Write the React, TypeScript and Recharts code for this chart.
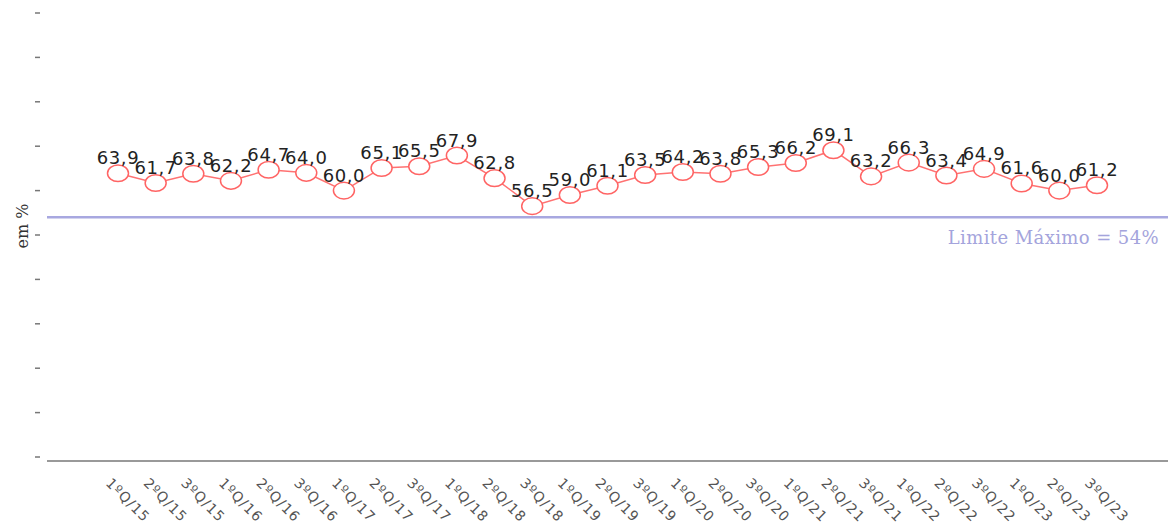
import { LineChart, Line, XAxis, YAxis, ReferenceLine, LabelList } from 'recharts'

const QUARTERS = [
  '1ºQ/15', '2ºQ/15', '3ºQ/15',
  '1ºQ/16', '2ºQ/16', '3ºQ/16',
  '1ºQ/17', '2ºQ/17', '3ºQ/17',
  '1ºQ/18', '2ºQ/18', '3ºQ/18',
  '1ºQ/19', '2ºQ/19', '3ºQ/19',
  '1ºQ/20', '2ºQ/20', '3ºQ/20',
  '1ºQ/21', '2ºQ/21', '3ºQ/21',
  '1ºQ/22', '2ºQ/22', '3ºQ/22',
  '1ºQ/23', '2ºQ/23', '3ºQ/23',
]

const VALUES = [
  63.9, 61.7, 63.8,
  62.2, 64.7, 64.0,
  60.0, 65.1, 65.5,
  67.9, 62.8, 56.5,
  59.0, 61.1, 63.5,
  64.2, 63.8, 65.3,
  66.2, 69.1, 63.2,
  66.3, 63.4, 64.9,
  61.6, 60.0, 61.2,
]

const Y_TICKS = [0, 10, 20, 30, 40, 50, 60, 70, 80, 90, 100]
const LIMIT = 54
const LIMIT_TEXT = 'Limite Máximo = 54%'

const data = QUARTERS.map((q, i) => ({ q, v: VALUES[i] }))

const fmt = (v: number) => v.toFixed(1).replace('.', ',')

// eslint-disable-next-line @typescript-eslint/no-explicit-any
function XTick(props: any) {
  const { x, y, payload } = props
  const tx = x - 13
  const ty = y + 15
  return (
    <text
      x={tx}
      y={ty}
      transform={`rotate(45, ${tx}, ${ty})`}
      fontSize={14}
      fontFamily="DejaVu Sans"
      fill="#555"
      textAnchor="start"
      letterSpacing={1}
    >
      {payload.value}
    </text>
  )
}

// eslint-disable-next-line @typescript-eslint/no-explicit-any
function YTick(props: any) {
  const { x, y } = props
  return <line x1={x - 5} x2={x} y1={y} y2={y} stroke="#777" strokeWidth={1.5} />
}

// eslint-disable-next-line @typescript-eslint/no-explicit-any
function Dot(props: any) {
  const { cx, cy, index } = props
  if (cx == null || cy == null) return null
  return <ellipse key={index} cx={cx} cy={cy} rx={10.5} ry={8.3} fill="#fff" stroke="#ff6464" strokeWidth={1.5} />
}

// eslint-disable-next-line @typescript-eslint/no-explicit-any
function LimitLabel(props: any) {
  const { viewBox } = props
  const right = viewBox.x + viewBox.width - 9
  return (
    <text x={right} y={viewBox.y + 27} textAnchor="end" fontSize={18} letterSpacing={0.4} fontFamily="DejaVu Serif" fill="#a4a4dc">
      {LIMIT_TEXT}
    </text>
  )
}

function AxisTitle() {
  return (
    <text x={28} y={226} transform="rotate(-90, 28, 226)" textAnchor="middle" fontSize={16} fontFamily="DejaVu Serif" fill="#333">
      em %
    </text>
  )
}

export default function App() {
  return (
    <div style={{ position: 'absolute', left: 0, top: 0, background: '#fff' }}>
      <LineChart width={1168} height={532} data={data} margin={{ top: 13, right: 0, bottom: 0, left: 0 }}>
        <XAxis
          dataKey="q"
          height={71}
          padding={{ left: 71, right: 71 }}
          tickLine={false}
          axisLine={{ stroke: '#999', strokeWidth: 2 }}
          interval={0}
          tick={<XTick />}
        />
        <YAxis
          width={47}
          domain={[-0.9, 100]}
          ticks={Y_TICKS}
          axisLine={false}
          tickLine={false}
          tickSize={0}
          tickMargin={7}
          tick={<YTick />}
          label={{ content: () => <AxisTitle /> }}
        />
        <ReferenceLine y={LIMIT} stroke="#a8a8e0" strokeWidth={2.5} label={<LimitLabel />} />
        <Line
          dataKey="v"
          stroke="#ff7272"
          strokeWidth={1.5}
          dot={<Dot />}
          isAnimationActive={false}
        >
          <LabelList dataKey="v" position="top" offset={9} formatter={(v: number) => fmt(v)} fontSize={18} letterSpacing={0.6} fontFamily="DejaVu Sans" fill="#222" />
        </Line>
      </LineChart>
    </div>
  )
}
